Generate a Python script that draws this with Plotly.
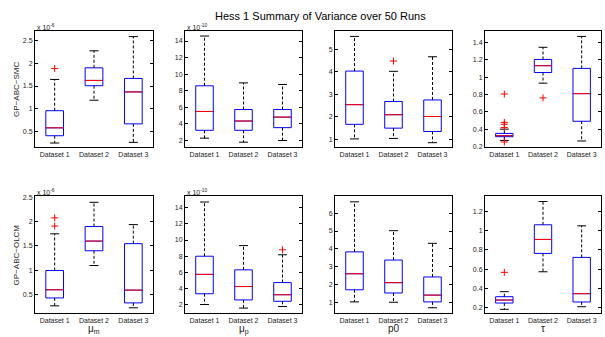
import plotly.graph_objects as go

W, H = 605, 337

datasets = ["Dataset 1", "Dataset 2", "Dataset 3"]
positions = [1, 2, 3]

# each box: [lower whisker, q1, median, q3, upper whisker]
smc_mu_m = [[0.246, 0.406, 0.58, 0.957, 1.645],
            [1.188, 1.507, 1.623, 1.90, 2.275],
            [0.261, 0.667, 1.37, 1.667, 2.587]]
smc_mu_m_out = [[1.884], [], []]

smc_mu_p = [[2.28, 3.23, 5.5, 8.6, 14.6],
            [1.8, 3.23, 4.35, 5.74, 8.95],
            [2.0, 3.55, 4.82, 5.74, 8.76]]
smc_mu_p_out = [[], [], []]

smc_p0 = [[1.01, 1.66, 2.54, 4.04, 5.59],
          [1.03, 1.49, 2.09, 2.68, 4.03],
          [0.84, 1.34, 2.01, 2.75, 4.68]]
smc_p0_out = [[], [4.49], []]

smc_tau = [[0.27, 0.313, 0.324, 0.351, 0.40],
           [0.93, 1.052, 1.131, 1.203, 1.343],
           [0.264, 0.491, 0.809, 1.10, 1.468]]
smc_tau_out = [[0.805, 0.478, 0.457, 0.418, 0.252], [0.76], []]

olcm_mu_m = [[0.264, 0.426, 0.595, 0.993, 1.75],
             [1.095, 1.40, 1.60, 1.90, 2.40],
             [0.223, 0.324, 0.588, 1.547, 1.94]]
olcm_mu_m_out = [[2.08, 1.91], [], []]

olcm_mu_p = [[2.04, 3.37, 5.76, 8.0, 14.69],
             [1.6, 2.61, 4.26, 6.32, 9.31],
             [1.8, 2.44, 3.25, 4.75, 8.18]]
olcm_mu_p_out = [[], [], [8.79]]

olcm_p0 = [[1.02, 1.70, 2.60, 3.83, 6.64],
           [1.0, 1.52, 2.10, 3.37, 5.02],
           [0.69, 1.02, 1.40, 2.42, 4.31]]
olcm_p0_out = [[], [], []]

olcm_tau = [[0.183, 0.248, 0.279, 0.314, 0.366],
            [0.572, 0.762, 0.907, 1.059, 1.30],
            [0.21, 0.259, 0.345, 0.721, 1.048]]
olcm_tau_out = [[0.566], [], []]

ticks_mu_m = ["0.5", "1", "1.5", "2", "2.5"]
ticks_mu_p = ["2", "4", "6", "8", "10", "12", "14"]
ticks_p0_top = ["1", "2", "3", "4", "5"]
ticks_p0_bot = ["1", "2", "3", "4", "5", "6"]
ticks_tau_top = ["0.2", "0.4", "0.6", "0.8", "1", "1.2", "1.4"]
ticks_tau_bot = ["0.2", "0.4", "0.6", "0.8", "1", "1.2"]

row_labels = ["GP\u2212ABC\u2212SMC", "GP\u2212ABC\u2212OLCM"]
col_labels = ["\u03bc<sub>m</sub>", "\u03bc<sub>p</sub>", "p0", "\u03c4"]
col_label_y = [332, 332, 331, 331.5]
exponents = ["x 10<sup>-6</sup>", "x 10<sup>-10</sup>", None, None]
title = "Hess 1 Summary of Variance over 50 Runs"

panels = [
    (smc_mu_m, smc_mu_m_out, ticks_mu_m, [0.15, 2.70]),
    (smc_mu_p, smc_mu_p_out, ticks_mu_p, [1.17, 15.15]),
    (smc_p0, smc_p0_out, ticks_p0_top, [0.63, 5.81]),
    (smc_tau, smc_tau_out, ticks_tau_top, [0.19, 1.525]),
    (olcm_mu_m, olcm_mu_m_out, ticks_mu_m, [0.108, 2.52]),
    (olcm_mu_p, olcm_mu_p_out, ticks_mu_p, [0.95, 15.37]),
    (olcm_p0, olcm_p0_out, ticks_p0_bot, [0.375, 6.94]),
    (olcm_tau, olcm_tau_out, ticks_tau_bot, [0.141, 1.352]),
]

xdom_px = [(35, 153), (185, 302), (335, 452), (485, 601)]
ydom_px = [(29, 147), (197, 316)]

BOX_W = 0.45
CAP_W = 0.23
FONT = "Liberation Sans, Arial, sans-serif"

fig = go.Figure()
layout = {}
annotations = []

for i, (stats, outs, tlabels, yr) in enumerate(panels):
    r, c = divmod(i, 4)
    n = i + 1
    xa = "x" if n == 1 else f"x{n}"
    ya = "y" if n == 1 else f"y{n}"
    lo = [s[0] for s in stats]
    q1 = [s[1] for s in stats]
    med = [s[2] for s in stats]
    q3 = [s[3] for s in stats]
    hi = [s[4] for s in stats]

    # whiskers (dashed)
    wx, wy = [], []
    for p, a, b, cc, d in zip(positions, lo, q1, q3, hi):
        wx += [p, p, None, p, p, None]
        wy += [cc, d, None, b, a, None]
    fig.add_trace(go.Scatter(x=wx, y=wy, mode="lines", xaxis=xa, yaxis=ya,
                             line=dict(color="black", width=1, dash="3px,2px"),
                             hoverinfo="skip", showlegend=False))
    # boxes
    fig.add_trace(go.Box(x=positions, q1=q1, median=med, q3=q3,
                         lowerfence=q1, upperfence=q3, width=BOX_W,
                         whiskerwidth=0, xaxis=xa, yaxis=ya,
                         line=dict(color="#0000ff", width=1),
                         fillcolor="rgba(0,0,0,0)", boxpoints=False,
                         hoverinfo="skip", showlegend=False))
    # medians
    mx, my = [], []
    for p, m in zip(positions, med):
        mx += [p - BOX_W / 2, p + BOX_W / 2, None]
        my += [m, m, None]
    fig.add_trace(go.Scatter(x=mx, y=my, mode="lines", xaxis=xa, yaxis=ya,
                             line=dict(color="#ff0000", width=1),
                             hoverinfo="skip", showlegend=False))
    # caps
    cx, cy = [], []
    for p, a, d in zip(positions, lo, hi):
        cx += [p - CAP_W / 2, p + CAP_W / 2, None, p - CAP_W / 2, p + CAP_W / 2, None]
        cy += [a, a, None, d, d, None]
    fig.add_trace(go.Scatter(x=cx, y=cy, mode="lines", xaxis=xa, yaxis=ya,
                             line=dict(color="black", width=1),
                             hoverinfo="skip", showlegend=False))
    # outliers
    ox, oy = [], []
    for p, o in zip(positions, outs):
        ox += [p] * len(o)
        oy += o
    if ox:
        fig.add_trace(go.Scatter(x=ox, y=oy, mode="markers", xaxis=xa, yaxis=ya,
                                 marker=dict(symbol="cross-thin", size=5,
                                             line=dict(color="#ff0000", width=1)),
                                 hoverinfo="skip", showlegend=False))

    x0, x1 = xdom_px[c]
    y0, y1 = ydom_px[r]
    key = "" if n == 1 else str(n)
    layout["xaxis" + key] = dict(
        domain=[x0 / W, x1 / W], anchor=ya, range=[0.5, 3.5],
        tickvals=positions, ticktext=datasets, ticks="",
        showline=True, linecolor="black", linewidth=1, mirror=True,
        showgrid=False, zeroline=False, fixedrange=True,
        tickfont=dict(family=FONT, size=7, color="#222"))
    layout["yaxis" + key] = dict(
        domain=[1 - y1 / H, 1 - y0 / H], anchor=xa, range=yr,
        tickvals=[float(t) for t in tlabels], ticktext=tlabels,
        ticks="inside", ticklen=3, tickcolor="black",
        showline=True, linecolor="black", linewidth=1, mirror="ticks",
        showgrid=False, zeroline=False, fixedrange=True,
        tickfont=dict(family=FONT, size=7, color="#222"))

    if exponents[c]:
        annotations.append(dict(text=exponents[c], x=x0 / W, y=1 - (y0 - 5) / H,
                                xref="paper", yref="paper", xanchor="left",
                                yanchor="middle", showarrow=False,
                                font=dict(family=FONT, size=7, color="#222")))

for r, lab in enumerate(row_labels):
    y0, y1 = ydom_px[r]
    annotations.append(dict(text=lab, x=16.5 / W, y=1 - (y0 + y1) / 2 / H,
                            xref="paper", yref="paper", textangle=-90,
                            xanchor="center", yanchor="middle", showarrow=False,
                            font=dict(family=FONT, size=8, color="#222")))

for c, lab in enumerate(col_labels):
    x0, x1 = xdom_px[c]
    annotations.append(dict(text=lab, x=(x0 + x1) / 2 / W, y=1 - col_label_y[c] / H,
                            xref="paper", yref="paper", xanchor="center",
                            yanchor="middle", showarrow=False,
                            font=dict(family=FONT, size=10, color="#222")))

annotations.append(dict(text=title, x=320 / W, y=1 - 13.5 / H, xref="paper",
                        yref="paper", xanchor="center", yanchor="middle",
                        showarrow=False, font=dict(family=FONT, size=11, color="black")))

fig.update_layout(width=W, height=H, margin=dict(l=0, r=0, t=0, b=0),
                  paper_bgcolor="white", plot_bgcolor="white",
                  showlegend=False, boxmode="overlay",
                  annotations=annotations, **layout)

fig.write_html("out.html", config={"displayModeBar": False},
               post_script="document.body.style.margin='0';"
                           "document.body.style.overflow='hidden';")
